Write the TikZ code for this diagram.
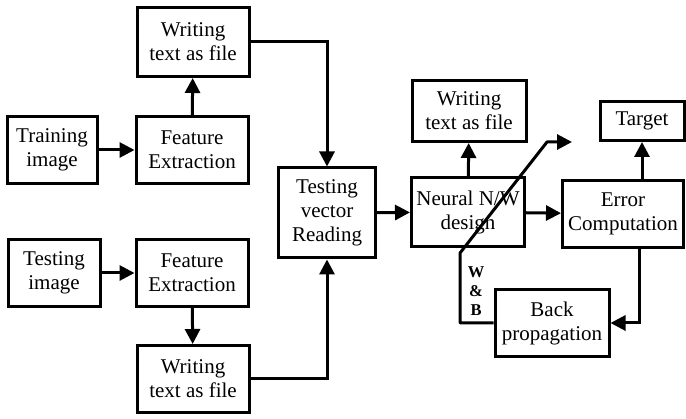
\documentclass[tikz,border=0pt]{standalone}
\usepackage{fontspec}
\setmainfont{Liberation Serif}
\usepackage{tikz}
\usetikzlibrary{positioning}
\usetikzlibrary{arrows.meta}
\tikzset{x=1pt, y=-1pt,
block/.style={ % Sets the properties for each box
draw,
align=center,
inner sep=2pt,
font=\fontsize{21}{24}\selectfont},
every edge/.style={ % Sets the properties for each connector
draw,
->},
>={Triangle[length=15pt,width=15pt]}}

\begin{document}
\begin{tikzpicture}[line width=3pt]
\useasboundingbox (0,0) rectangle (686,419);
\node[block, minimum width=90, minimum height=67] (trainimg) at (52,150) {Training\\image};
\node[block, minimum width=112, minimum height=67] (featA) at (192,150) {Feature\\Extraction};
\node[block, minimum width=112, minimum height=69] (writeA) at (193,42) {Writing\\text as file};
\node[block, minimum width=92, minimum height=67] (testimg) at (54,273) {Testing\\image};
\node[block, minimum width=112, minimum height=67] (featB) at (192,273) {Feature\\Extraction};
\node[block, minimum width=112, minimum height=67] (writeB) at (193,379) {Writing\\text as file};
\node[block, minimum width=97, minimum height=90] (reading) at (327,213) {Testing\\vector\\Reading};
\node[block, minimum width=113, minimum height=69] (neural) at (468,212) {Neural N/W\\design};
\node[block, minimum width=114, minimum height=61] (writeC) at (469,111) {Writing\\text as file};
\node[block, minimum width=121, minimum height=67] (error) at (623,214) {Error\\Computation};
\node[block, minimum width=84, minimum height=39] (target) at (642,121) {Target};
\node[block, minimum width=114, minimum height=67] (backprop) at (552,323) {Back\\propagation};
\node[align=center, font=\bfseries\fontsize{16.5}{19}\selectfont] (wb) at (476,291) {W\\\&\\B};
\coordinate (wbA) at (460,253);
\coordinate (wbB) at (547,142);
\coordinate (wbEnd) at (572,142);
\draw (trainimg) edge (featA);
\draw (featA) edge (writeA);
\draw (testimg) edge (featB);
\draw (featB) edge (writeB);
\draw (reading) edge (neural);
\draw (neural) edge (writeC);
\draw (neural) edge (error);
\draw (error.north -| target) edge (target);
\draw[->] (writeA) -| (reading);
\draw[->] (writeB) -| (reading);
\draw[->] ([xshift=16pt]error.south) |- (backprop);
\draw[->, line join=round] (backprop) -| (wbA) -- (wbB) -- (wbEnd);
\end{tikzpicture}
\end{document}
